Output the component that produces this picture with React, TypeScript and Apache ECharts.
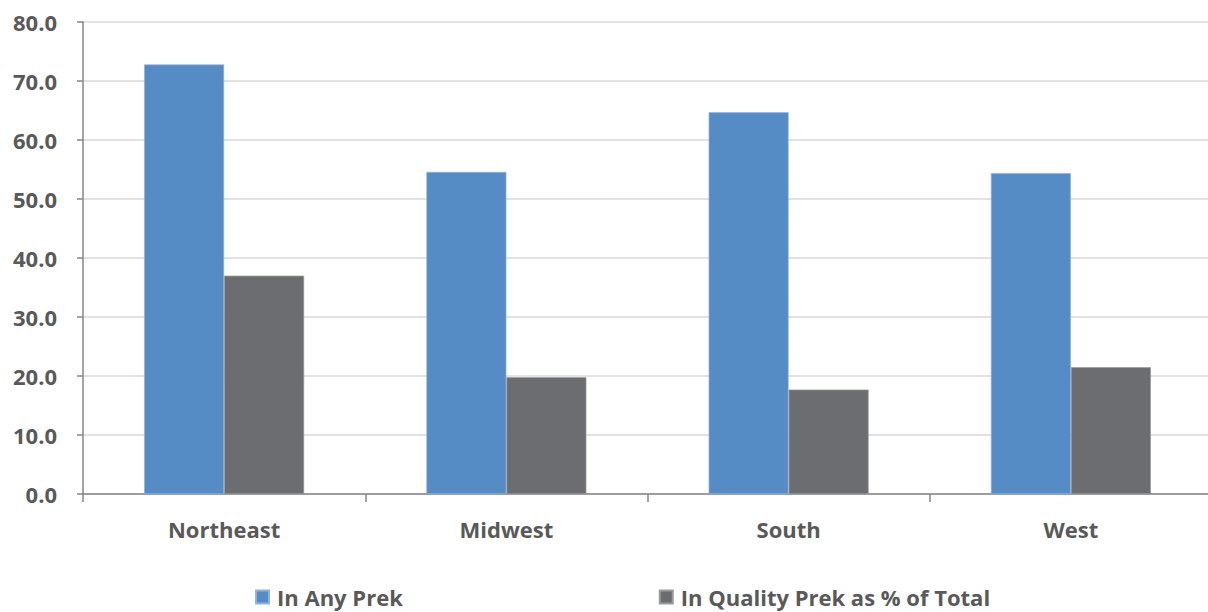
import React, { useEffect, useRef } from "react";
import * as echarts from "echarts";

const categories = ["Northeast", "Midwest", "South", "West"];
const anyPrek = [72.8, 54.6, 64.7, 54.4];
const qualityPrek = [37.0, 19.8, 17.7, 21.5];
const seriesNames = ["In Any Prek", "In Quality Prek as % of Total"];

const FONT = "'Open Sans', sans-serif";
const TEXT = "#595959";

export default function App() {
  const ref = useRef<HTMLDivElement>(null);
  useEffect(() => {
    document.body.style.margin = "0";
    document.body.style.overflow = "hidden";
    const chart = echarts.init(ref.current!, undefined, { renderer: "svg" });
    chart.setOption({
      animation: false,
      grid: { left: 83, right: 0, top: 22, bottom: 118, containLabel: false },
      legend: {
        left: 255,
        top: 586,
        padding: 0,
        itemWidth: 13,
        itemHeight: 13,
        itemGap: 256,
        icon: "rect",
        textStyle: { fontFamily: FONT, fontWeight: "bold", fontSize: 22, color: TEXT, padding: [0, 0, 0, 3] },
        data: seriesNames,
      },
      xAxis: {
        type: "category",
        data: categories,
        axisLine: { lineStyle: { color: "#868686", width: 1.5 } },
        axisTick: { show: true, length: 8, alignWithLabel: false, lineStyle: { color: "#868686", width: 1.5 } },
        axisLabel: { fontFamily: FONT, fontWeight: "bold", fontSize: 22, color: TEXT, margin: 24 },
      },
      yAxis: {
        type: "value",
        min: 0,
        max: 80,
        interval: 10,
        axisLine: { show: true, lineStyle: { color: "#868686", width: 1.5 } },
        axisTick: { show: true, length: 6, lineStyle: { color: "#868686", width: 1.5 } },
        axisLabel: {
          fontFamily: FONT,
          fontWeight: "bold",
          fontSize: 22,
          color: TEXT,
          margin: 26,
          formatter: (v: number) => v.toFixed(1),
        },
        splitLine: { lineStyle: { color: "#d9d9d9", width: 1.5 } },
      },
      series: [
        {
          name: seriesNames[0],
          type: "bar",
          data: anyPrek,
          barWidth: 80,
          barGap: "0%",
          itemStyle: { color: "#568CC5", borderColor: "#8fb3dd", borderWidth: 0.7 },
        },
        {
          name: seriesNames[1],
          type: "bar",
          data: qualityPrek,
          barWidth: 80,
          barGap: "0%",
          itemStyle: { color: "#6C6D71", borderColor: "#9a9b9e", borderWidth: 0.7 },
        },
      ],
    });
    return () => chart.dispose();
  }, []);
  return <div ref={ref} style={{ width: 1212, height: 612 }} />;
}
